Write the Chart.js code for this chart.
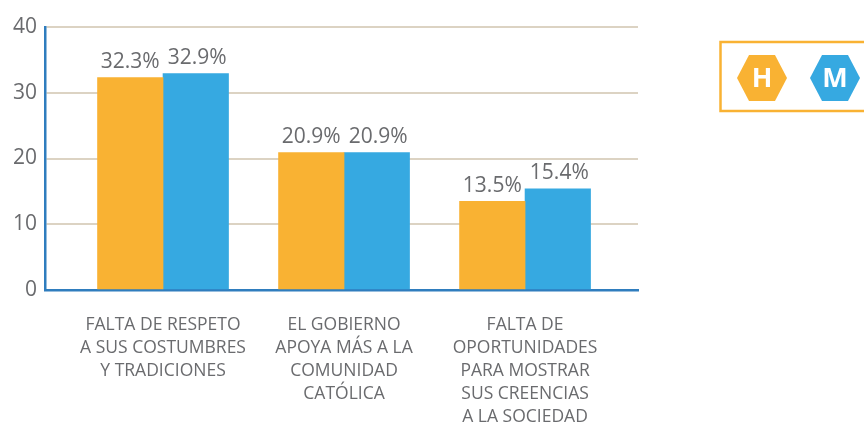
<!DOCTYPE html>
<html>
<head>
<meta charset="utf-8">
<style>html,body{margin:0;padding:0;background:#fff}canvas{display:block}</style>
<script src="https://cdn.jsdelivr.net/npm/chart.js@4/dist/chart.umd.min.js"></script>
</head>
<body>
<canvas id="c" width="864" height="423"></canvas>
<script>
const categories = [
  ["FALTA DE RESPETO","A SUS COSTUMBRES","Y TRADICIONES"],
  ["EL GOBIERNO","APOYA MÁS A LA","COMUNIDAD","CATÓLICA"],
  ["FALTA DE","OPORTUNIDADES","PARA MOSTRAR","SUS CREENCIAS","A LA SOCIEDAD"]
];
const seriesNames = ["H","M"];
const hValues = [32.3,20.9,13.5];
const mValues = [32.9,20.9,15.4];
const seriesColors = ["#F9B233","#36A9E1"];
const yTicks = [0,10,20,30,40];
const FONT = '"Open Sans", "Noto Sans", sans-serif';
const TEXT = "#6a6b6e";

const valueLabels = {
  id:"valueLabels",
  afterDatasetsDraw(chart){
    const ctx = chart.ctx;
    ctx.save();
    ctx.font = "21px "+FONT;
    ctx.fillStyle = TEXT;
    ctx.textAlign = "center";
    ctx.textBaseline = "bottom";
    chart.data.datasets.forEach((ds,i)=>{
      chart.getDatasetMeta(i).data.forEach((bar,j)=>{
        ctx.fillText(ds.data[j].y.toFixed(1)+"%", bar.x+(i===1?1.5:0), bar.y-5);
      });
    });
    ctx.restore();
  }
};
const hexLegend = {
  id:"hexLegend",
  afterDraw(chart){
    const ctx = chart.ctx;
    ctx.save();
    ctx.strokeStyle = "#F9B233";
    ctx.lineWidth = 2.5;
    ctx.strokeRect(720.5,42,150,69);
    const centers = [762,835];
    seriesNames.forEach((name,i)=>{
      const cx = centers[i], cy = 78, rx = 25, ry = 23, inset = 12;
      ctx.beginPath();
      ctx.moveTo(cx-rx,cy);
      ctx.lineTo(cx-rx+inset,cy-ry);
      ctx.lineTo(cx+rx-inset,cy-ry);
      ctx.lineTo(cx+rx,cy);
      ctx.lineTo(cx+rx-inset,cy+ry);
      ctx.lineTo(cx-rx+inset,cy+ry);
      ctx.closePath();
      ctx.fillStyle = seriesColors[i];
      ctx.fill();
      ctx.fillStyle = "#fff";
      ctx.font = "bold 27px "+FONT;
      ctx.textAlign = "center";
      ctx.textBaseline = "middle";
      ctx.fillText(name,cx,cy+1);
    });
    ctx.restore();
  }
};

new Chart(document.getElementById("c"),{
  type:"bar",
  data:{
    datasets:[
      {label:seriesNames[0],data:hValues.map((v,i)=>({x:i,y:v})),backgroundColor:seriesColors[0],barThickness:65.5},
      {label:seriesNames[1],data:mValues.map((v,i)=>({x:i,y:v})),backgroundColor:seriesColors[1],barThickness:65.5}
    ]
  },
  plugins:[valueLabels,hexLegend],
  options:{
    responsive:false,
    animation:false,
    devicePixelRatio:1,
    layout:{padding:{top:27,right:226,left:0,bottom:0}},
    plugins:{legend:{display:false},tooltip:{enabled:false}},
    scales:{
      x:{
        type:"linear",
        offset:false,
        min:-0.652,
        max:2.624,
        afterBuildTicks(s){s.ticks=categories.map((_,i)=>({value:i}));},
        afterFit(s){s.height=133;},
        grid:{display:false,drawTicks:false},
        border:{display:true,color:"#2F7DBE",width:2.5},
        ticks:{
          autoSkip:false,maxRotation:0,minRotation:0,padding:24,
          color:TEXT,
          font:{family:FONT,size:17.5,lineHeight:1.31},
          callback(v){return categories[v];}
        }
      },
      y:{
        min:0,max:40,
        afterBuildTicks(s){s.ticks=yTicks.map(v=>({value:v}));},
        afterFit(s){s.width=45;},
        grid:{color:"#DCD3C3",lineWidth:2,drawTicks:false},
        border:{display:true,color:"#2F7DBE",width:2.5},
        ticks:{padding:8,color:TEXT,font:{family:FONT,size:21}}
      }
    }
  }
});
</script>
</body>
</html>
